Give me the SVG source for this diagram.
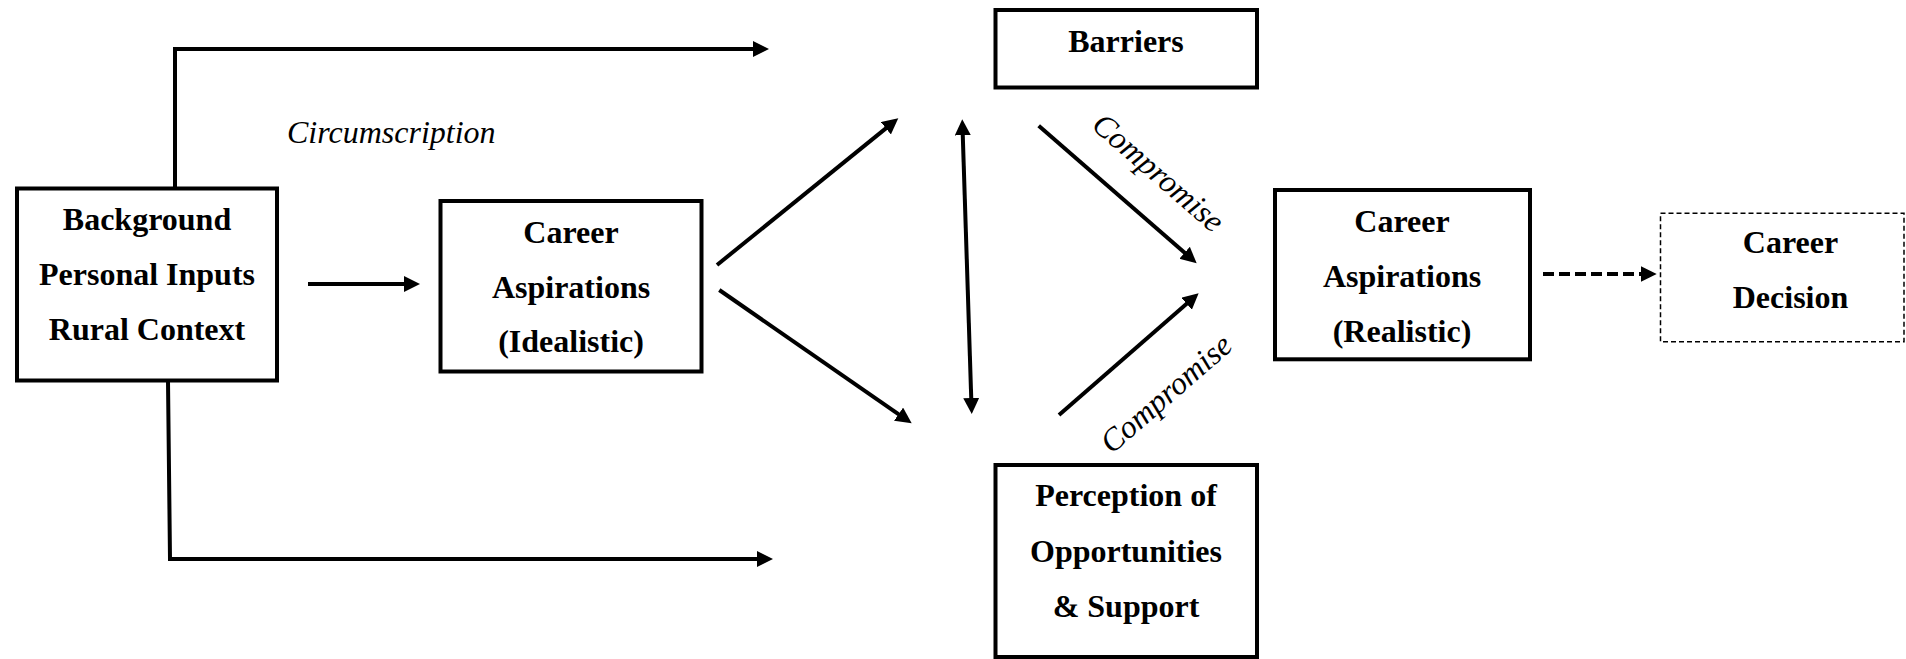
<svg xmlns="http://www.w3.org/2000/svg" width="1906" height="659" viewBox="0 0 1906 659">
<style>
.box{fill:#fff;stroke:#000;stroke-width:4}
.dbox{fill:#fff;stroke:#000;stroke-width:1.5;stroke-dasharray:5 3}
.t{font-family:"Liberation Serif","Times New Roman",serif;font-weight:bold;font-size:32px;text-anchor:middle;fill:#000}
.it{font-family:"Liberation Serif","Times New Roman",serif;font-style:italic;font-size:32px;fill:#000}
.ln{fill:none;stroke:#000;stroke-width:4;marker-end:url(#ah)}
</style>
<defs>
<marker id="ah" markerUnits="userSpaceOnUse" markerWidth="17" markerHeight="17" refX="2" refY="8" orient="auto-start-reverse">
<path d="M0,0 L16,8 L0,16 z" fill="#000"/>
</marker>
</defs>
<rect width="1906" height="659" fill="#fff"/>
<g id="connectors">
<path class="ln" d="M175,190 L175,49 L755,49"/>
<path class="ln" d="M168,381 L170,559 L759,559"/>
<path class="ln" d="M308,284 L406,284"/>
<path class="ln" d="M717,265 L887.4,127.1"/>
<path class="ln" d="M719.3,290 L900.2,415.3"/>
<path class="ln" d="M962.7,133.3 L971.3,400" style="marker-start:url(#ah)"/>
<path class="ln" d="M1038.7,125.7 L1186.1,254.1"/>
<path class="ln" d="M1059,415 L1188.1,302.5"/>
<path class="ln" d="M1543,274 L1642.7,274" style="stroke-dasharray:11 5"/>
<text class="it" x="287" y="142.7">Circumscription</text>
<text class="it" text-anchor="middle" transform="translate(1151.5,180.5) rotate(41)">Compromise</text>
<text class="it" text-anchor="middle" transform="translate(1173,401.5) rotate(-41)">Compromise</text>
</g>
<g id="background">
<rect class="box" x="17" y="188.5" width="260" height="192"/>
<text class="t" x="147" y="230">Background</text>
<text class="t" x="147" y="285">Personal Inputs</text>
<text class="t" x="147" y="340">Rural Context</text>
</g>
<g id="idealistic">
<rect class="box" x="440.5" y="201" width="261" height="170.5"/>
<text class="t" x="571" y="242.7">Career</text>
<text class="t" x="571" y="297.7">Aspirations</text>
<text class="t" x="571" y="352">(Idealistic)</text>
</g>
<g id="barriers">
<rect class="box" x="995.5" y="10" width="261.5" height="77.5"/>
<text class="t" x="1126" y="51.7">Barriers</text>
</g>
<g id="perception">
<rect class="box" x="995.5" y="465" width="261.5" height="192"/>
<text class="t" x="1126" y="506">Perception of</text>
<text class="t" x="1126" y="561.7">Opportunities</text>
<text class="t" x="1126" y="617.3">&amp; Support</text>
</g>
<g id="realistic">
<rect class="box" x="1275" y="190" width="255" height="169.3"/>
<text class="t" x="1402" y="231.7">Career</text>
<text class="t" x="1402" y="286.7">Aspirations</text>
<text class="t" x="1402" y="341.7">(Realistic)</text>
</g>
<g id="decision">
<rect class="dbox" x="1660.5" y="213.3" width="243.5" height="128.5"/>
<text class="t" x="1790.5" y="253.3">Career</text>
<text class="t" x="1790.5" y="308.3">Decision</text>
</g>
</svg>
